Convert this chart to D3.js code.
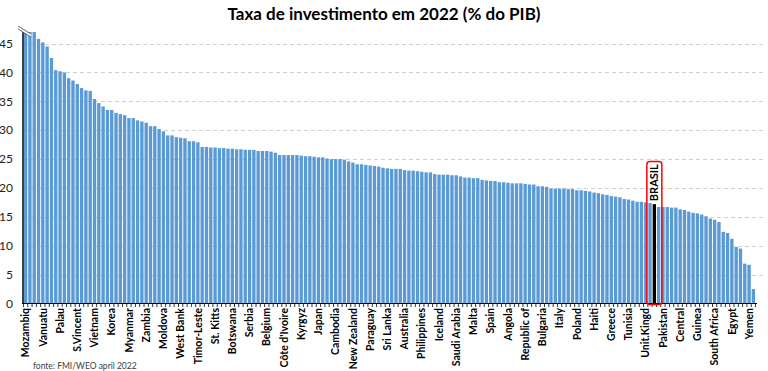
<!DOCTYPE html>
<html>
<head>
<meta charset="utf-8">
<script src="https://cdn.jsdelivr.net/npm/d3@7"></script>
<style>
  html, body { margin: 0; padding: 0; background: #fff; }
  svg { display: block; font-family: Lato, "Open Sans", sans-serif; }
</style>
</head>
<body>
<script>
// taxa de investimento 2022, % do PIB, ordenado do maior para o menor
const values = [
  47, 47, 47, 45.8, 45.2, 44.5, 42.5, 40.4, 40.2, 40.0, 39.0, 38.6, 38.0, 37.3, 36.9, 36.8,
  35.4, 34.7, 34.1, 33.5, 33.5, 33.0, 32.8, 32.6, 32.1, 32.1, 31.7, 31.5, 31.3, 30.7, 30.7,
  30.2, 29.8, 29.1, 29.1, 28.8, 28.7, 28.6, 28.1, 28.1, 27.9,
  27.1, 27.1, 27.0, 27.0, 26.9, 26.9, 26.8, 26.8, 26.7, 26.7, 26.6, 26.6, 26.6, 26.4, 26.4,
  26.4, 26.3, 26.1, 25.7, 25.7, 25.7, 25.7, 25.7,
  25.6, 25.5, 25.5, 25.4, 25.3, 25.3, 25.1, 25.0, 25.0, 25.0, 24.9, 24.6, 24.4, 24.1, 24.1,
  24.0, 23.9, 23.8, 23.7, 23.5, 23.4, 23.3, 23.3, 23.3, 23.1, 23.0, 23.0, 22.9, 22.8, 22.7,
  22.7, 22.4, 22.3, 22.3, 22.3, 22.2, 22.2, 22.0, 21.8, 21.8, 21.7, 21.7, 21.4, 21.3, 21.2,
  21.2, 21.0, 21.0, 20.9,
  20.8, 20.8, 20.8, 20.7, 20.6, 20.6, 20.3, 20.3, 20.2, 19.9, 19.9, 19.9, 19.9, 19.8, 19.8,
  19.6, 19.6, 19.5, 19.4, 19.2, 19.1,
  18.9, 18.8, 18.6, 18.5, 18.4, 18.1, 18.0, 17.8, 17.6, 17.6, 17.5, 17.4,
  17.2,
  16.7, 16.7, 16.7, 16.6, 16.6, 16.3, 16.2, 15.9, 15.7, 15.6, 15.4, 15.1, 14.7, 14.5, 14.1,
  12.4, 12.2, 11.2, 9.8, 9.5, 6.9, 6.7, 2.5
];

// one label every 4 bars
const tickLabels = [
  "Mozambiq", "Vanuatu", "Palau", "S.Vincent", "Vietnam", "Korea", "Myanmar", "Zambia",
  "Moldova", "West Bank", "Timor-Leste", "St. Kitts", "Botswana", "Serbia", "Belgium",
  "Côte d'Ivoire", "Kyrgyz", "Japan", "Cambodia", "New Zealand", "Paraguay", "Sri Lanka",
  "Australia", "Philippines", "Iceland", "Saudi Arabia", "Malta", "Spain", "Angola",
  "Republic of", "Bulgaria", "Italy", "Poland", "Haiti", "Greece", "Tunisia", "Unit.Kingd",
  "Pakistan", "Central", "Guinea", "South Africa", "Egypt", "Yemen"
];
const labelStep = 4;

const brasilIndex = 146;
const brasilLabel = "BRASIL";

const yTicks = [0, 5, 10, 15, 20, 25, 30, 35, 40, 45];
const yMax = 47;

const title = "Taxa de investimento em 2022 (% do PIB)";
const source = "fonte: FMI/WEO april 2022";

const WIDTH = 768;
const HEIGHT = 371;

const svg = d3.select("body")
  .append("svg")
  .attr("width", WIDTH)
  .attr("height", HEIGHT);

const x = d3.scaleBand()
  .domain(d3.range(values.length))
  .range([23.5, 755.5])
  .paddingInner(0.22)
  .paddingOuter(0.1);

const y = d3.scaleLinear()
  .domain([0, yMax])
  .range([303.5, 32]);

// title
svg.append("text")
  .attr("x", 384)
  .attr("y", 20)
  .attr("text-anchor", "middle")
  .attr("font-size", 17)
  .attr("font-weight", "bold")
  .attr("fill", "#000")
  .text(title);

// grid lines
svg.append("g")
  .selectAll("line")
  .data(yTicks.filter(d => d > 0))
  .join("line")
  .attr("x1", 24)
  .attr("x2", 764)
  .attr("y1", d => Math.round(y(d)) + 0.5)
  .attr("y2", d => Math.round(y(d)) + 0.5)
  .attr("stroke", "#d0d0d0")
  .attr("stroke-dasharray", "4,3");

// y labels
svg.append("g")
  .selectAll("text")
  .data(yTicks)
  .join("text")
  .attr("x", 13)
  .attr("y", d => y(d))
  .attr("dy", "0.35em")
  .attr("text-anchor", "end")
  .attr("font-size", 12)
  .attr("fill", "#222")
  .text(d => d);

// bars
svg.append("g")
  .selectAll("rect")
  .data(values)
  .join("rect")
  .attr("x", (d, i) => x(i))
  .attr("y", d => y(Math.min(d, yMax)))
  .attr("width", x.bandwidth())
  .attr("height", d => y(0) - y(Math.min(d, yMax)))
  .attr("fill", (d, i) => i === brasilIndex ? "#000" : "#5b9bd5");

// axes lines
svg.append("line")
  .attr("x1", 23).attr("x2", 23)
  .attr("y1", y(yMax)).attr("y2", y(0))
  .attr("stroke", "#000")
  .attr("stroke-width", 1.5);

svg.append("line")
  .attr("x1", 22).attr("x2", 757)
  .attr("y1", y(0)).attr("y2", y(0))
  .attr("stroke", "#000")
  .attr("stroke-width", 1);

// small ticks between bars
const gap = x.step() * x.paddingInner();
svg.append("g")
  .selectAll("line")
  .data(d3.range(values.length + 1))
  .join("line")
  .attr("x1", i => (i < values.length ? x(i) : x(i - 1) + x.step()) - gap / 2)
  .attr("x2", i => (i < values.length ? x(i) : x(i - 1) + x.step()) - gap / 2)
  .attr("y1", y(0))
  .attr("y2", y(0) + 3.5)
  .attr("stroke", "#000")
  .attr("stroke-width", 0.8);

// break mark at the top of the axis
const brk = svg.append("g");
brk.append("polygon")
  .attr("points", "18,26 31,34 31,37 18,29")
  .attr("fill", "#fff");
brk.append("line")
  .attr("x1", 18).attr("y1", 26).attr("x2", 31).attr("y2", 34)
  .attr("stroke", "#555").attr("stroke-width", 0.9);
brk.append("line")
  .attr("x1", 18).attr("y1", 29).attr("x2", 31).attr("y2", 37)
  .attr("stroke", "#555").attr("stroke-width", 0.9);

// x labels
svg.append("g")
  .selectAll("text")
  .data(tickLabels)
  .join("text")
  .attr("transform", (d, k) => {
    const cx = x(k * labelStep) + x.bandwidth() / 2;
    return `translate(${cx},308) rotate(-90)`;
  })
  .attr("dy", "0.35em")
  .attr("text-anchor", "end")
  .attr("font-size", 10.5)
  .attr("font-weight", "bold")
  .attr("fill", "#000")
  .text(d => d);

// Brasil highlight
const bx = x(brasilIndex) + x.bandwidth() / 2;
svg.append("rect")
  .attr("x", bx - 7.5)
  .attr("y", 161.5)
  .attr("width", 15)
  .attr("height", 143)
  .attr("rx", 3)
  .attr("fill", "none")
  .attr("stroke", "#ff0000")
  .attr("stroke-width", 1.5);

svg.append("text")
  .attr("transform", `translate(${bx},${y(values[brasilIndex]) - 3}) rotate(-90)`)
  .attr("dy", "0.35em")
  .attr("font-size", 11)
  .attr("font-weight", "bold")
  .attr("fill", "#000")
  .text(brasilLabel);

// source
svg.append("text")
  .attr("x", 33)
  .attr("y", 369)
  .attr("font-size", 8.5)
  .attr("fill", "#404040")
  .text(source);
</script>
</body>
</html>
